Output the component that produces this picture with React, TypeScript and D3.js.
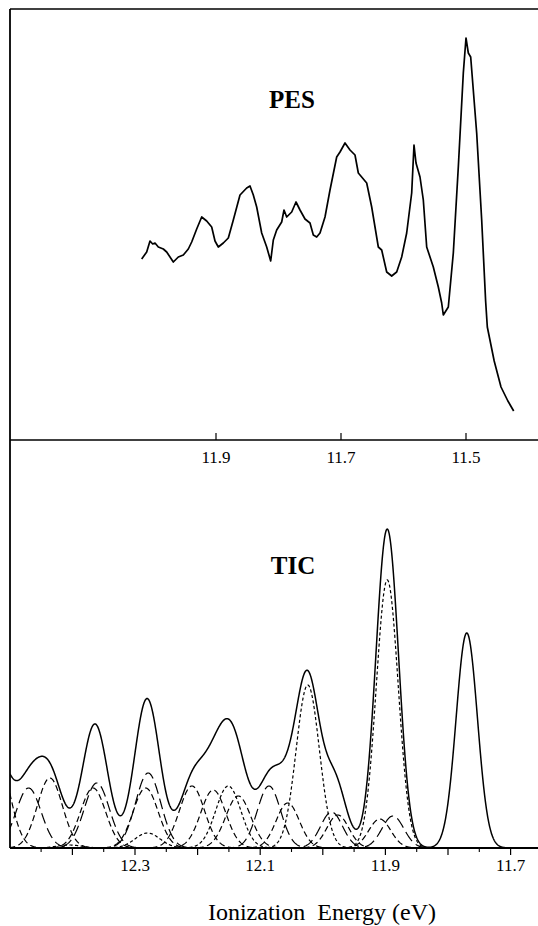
import React from 'react';
import * as d3 from 'd3';

const W = 538;
const H = 926;

// ---------- PES trace (ionization energy in eV, intensity in arbitrary units) ----------
const pesEnergy = [
  12.0189, 12.0109, 12.0056, 12.0013, 11.9976, 11.9923, 11.9843, 11.9789, 11.9683, 11.9603,
  11.9523, 11.9443, 11.9389, 11.9309, 11.9229, 11.9149, 11.9069, 11.9016, 11.8963, 11.8883,
  11.8803, 11.8723, 11.8616, 11.8509, 11.8456, 11.8403, 11.8349, 11.8269, 11.8189, 11.8125,
  11.8083, 11.8029, 11.7949, 11.7912, 11.7869, 11.7789, 11.772, 11.7656, 11.7576, 11.7496,
  11.7443, 11.7389, 11.7336, 11.7256, 11.7176, 11.7069, 11.7016, 11.6936, 11.6856, 11.6776,
  11.6723, 11.6589, 11.6509, 11.6403, 11.6349, 11.6269, 11.6189, 11.6109, 11.6029, 11.5949,
  11.5869, 11.5832, 11.58, 11.5736, 11.5683, 11.5629, 11.5523, 11.5443, 11.5389, 11.5363,
  11.5283, 11.5203, 11.5123, 11.5043, 11.5, 11.4963, 11.4925, 11.4829, 11.4749, 11.4686,
  11.4659, 11.4549, 11.444, 11.433, 11.4237,
];
const pesIntensity = [
  181, 188, 199, 196, 197, 193, 191, 188, 178, 183,
  185, 191, 198, 211, 223, 219, 213, 199, 193, 197,
  202, 220, 245, 252, 254, 245, 233, 207, 193, 179,
  200, 210, 218, 230, 223, 228, 238, 230, 221, 217,
  205, 203, 207, 223, 250, 283, 288, 297, 290, 285,
  267, 257, 233, 193, 190, 168, 164, 168, 183, 207,
  247, 295, 277, 263, 240, 193, 173, 153, 137, 125,
  133, 187, 273, 367, 402, 387, 383, 307, 220, 139,
  113, 79, 53, 39, 29,
];

// ---------- TIC simulation: band components (centre eV, height, gaussian width, line style) ----------
const bandCenter = [
  11.770, 11.897, 12.024, 12.151, 12.280, 12.405,
  11.909, 12.056, 12.135, 12.175, 12.209, 12.283, 12.367, 12.436,
  11.888, 11.976, 11.986, 12.086, 12.279, 12.361, 12.470, 12.520,
];
const bandHeight = [
  215, 268, 163, 62, 15, 3,
  29, 45, 52, 58, 62, 60, 60, 70,
  32, 33, 36, 62, 75, 65, 60, 90,
];
const bandWidth = [
  0.017, 0.0175, 0.0185, 0.02, 0.02, 0.02,
  0.0175, 0.0185, 0.02, 0.02, 0.02, 0.02, 0.02, 0.02,
  0.0175, 0.0175, 0.0175, 0.0185, 0.02, 0.02, 0.02, 0.02,
];
const bandStyle = [
  'origin', 'short', 'short', 'short', 'short', 'short',
  'medium', 'medium', 'medium', 'medium', 'medium', 'medium', 'medium', 'medium',
  'long', 'medium', 'long', 'long', 'long', 'long', 'long', 'medium',
];

// ---------- axes ----------
const topTickValues = [11.9, 11.7, 11.5];
const topTickLabels = ['11.9', '11.7', '11.5'];
const bottomLabelValues = [12.3, 12.1, 11.9, 11.7];
const bottomLabelText = ['12.3', '12.1', '11.9', '11.7'];
const bottomLongTicks = [12.4, 12.3, 12.2, 12.1, 12.0, 11.9, 11.8, 11.7];
const bottomShortTicks = [12.45, 12.35, 12.25, 12.15, 12.05, 11.95, 11.85, 11.75];

const dashFor: Record<string, string> = {
  short: '3.2,2.4',
  medium: '6,3.5',
  long: '11,5',
};

const FONT = '"Liberation Serif", "Times New Roman", Times, serif';

// layout
const L = 10;
const R = W;
const topY0 = 9;
const axisTop = 440;
const axisBot = 848;

export default function App() {
  const xTop = d3.scaleLinear().domain([11.9, 11.5]).range([216, 466]);
  const yTop = d3.scaleLinear().domain([0, 431]).range([axisTop, topY0]);

  const xBot = d3.scaleLinear().domain([12.3, 11.7]).range([135, 510.6]);
  const yBot = d3.scaleLinear().domain([0, 408]).range([axisBot, axisTop]);

  const pesPts: [number, number][] = pesEnergy.map((e, i) => [xTop(e), yTop(pesIntensity[i])]);
  const pesLine = d3.line<[number, number]>().x((d) => d[0]).y((d) => d[1]);

  const band = (i: number, e: number) => {
    const dx = (e - bandCenter[i]) / bandWidth[i];
    return bandHeight[i] * Math.exp(-0.5 * dx * dx);
  };

  const eLeft = xBot.invert(L);
  const eRight = xBot.invert(R);
  const step = 0.0005;
  const nTot = Math.round((eLeft - eRight) / step);
  const totalPts: [number, number][] = [];
  for (let k = 0; k <= nTot; k++) {
    const e = eLeft - k * step;
    let s = 0;
    for (let i = 0; i < bandCenter.length; i++) s += band(i, e);
    totalPts.push([xBot(e), yBot(s)]);
  }
  const smooth = d3.line<[number, number]>().x((d) => d[0]).y((d) => d[1]);

  const compPaths = bandCenter
    .map((c, i) => {
      if (bandStyle[i] === 'origin') return null;
      const hi = Math.min(eLeft + 0.02, c + 4 * bandWidth[i]);
      const lo = Math.max(eRight, c - 4 * bandWidth[i]);
      const pts: [number, number][] = [];
      const n = Math.round((hi - lo) / step);
      for (let k = 0; k <= n; k++) {
        const e = hi - k * step;
        pts.push([xBot(e), yBot(band(i, e))]);
      }
      return { d: smooth(pts) as string, style: bandStyle[i], key: i };
    })
    .filter(Boolean) as { d: string; style: string; key: number }[];

  return (
    <svg
      width={W}
      height={H}
      viewBox={`0 0 ${W} ${H}`}
      style={{ position: 'absolute', left: 0, top: 0, background: '#fff' }}
    >
      <defs>
        <clipPath id="botClip">
          <rect x={L} y={axisTop} width={R - L} height={axisBot - axisTop} />
        </clipPath>
      </defs>
      <rect x={0} y={0} width={W} height={H} fill="#fff" />

      {/* frames */}
      <line x1={L} x2={R} y1={topY0} y2={topY0} stroke="#000" strokeWidth={1.6} />
      <line x1={L} x2={L} y1={topY0} y2={axisBot} stroke="#000" strokeWidth={1.8} />
      <line x1={L} x2={R} y1={axisTop} y2={axisTop} stroke="#000" strokeWidth={1.6} />
      <line x1={L} x2={R} y1={axisBot} y2={axisBot} stroke="#000" strokeWidth={1.8} />

      {/* top axis ticks (inward) */}
      {topTickValues.map((v, i) => (
        <g key={'tt' + i}>
          <line x1={xTop(v)} x2={xTop(v)} y1={axisTop} y2={axisTop - 7} stroke="#000" strokeWidth={1.2} />
          <text
            x={xTop(v)}
            y={463}
            textAnchor="middle"
            fontFamily={FONT}
            fontSize={17}
            fill="#000"
          >
            {topTickLabels[i]}
          </text>
        </g>
      ))}

      {/* bottom axis ticks (outward) */}
      {bottomLongTicks.map((v, i) => (
        <line key={'bl' + i} x1={xBot(v)} x2={xBot(v)} y1={axisBot} y2={axisBot + 7} stroke="#000" strokeWidth={1.2} />
      ))}
      {bottomShortTicks.map((v, i) => (
        <line key={'bs' + i} x1={xBot(v)} x2={xBot(v)} y1={axisBot} y2={axisBot + 4} stroke="#000" strokeWidth={1.1} />
      ))}
      {bottomLabelValues.map((v, i) => (
        <text
          key={'bt' + i}
          x={xBot(v)}
          y={871}
          textAnchor="middle"
          fontFamily={FONT}
          fontSize={17}
          fill="#000"
        >
          {bottomLabelText[i]}
        </text>
      ))}

      {/* PES */}
      <path d={pesLine(pesPts) as string} fill="none" stroke="#000" strokeWidth={1.7} strokeLinejoin="round" />
      <text x={292} y={108} textAnchor="middle" fontFamily={FONT} fontWeight="bold" fontSize={25} fill="#000">
        PES
      </text>

      {/* TIC */}
      <g clipPath="url(#botClip)">
        {compPaths.map((p) => (
          <path
            key={'c' + p.key}
            d={p.d}
            fill="none"
            stroke="#000"
            strokeWidth={1.2}
            strokeDasharray={dashFor[p.style]}
          />
        ))}
        <path d={smooth(totalPts) as string} fill="none" stroke="#000" strokeWidth={1.5} />
      </g>
      <text x={293} y={574} textAnchor="middle" fontFamily={FONT} fontWeight="bold" fontSize={25} fill="#000">
        TIC
      </text>

      <text
        x={322}
        y={920}
        textAnchor="middle"
        fontFamily={FONT}
        fontSize={24}
        fill="#000"
        style={{ whiteSpace: 'pre' }}
      >
        {'Ionization  Energy (eV)'}
      </text>
    </svg>
  );
}
